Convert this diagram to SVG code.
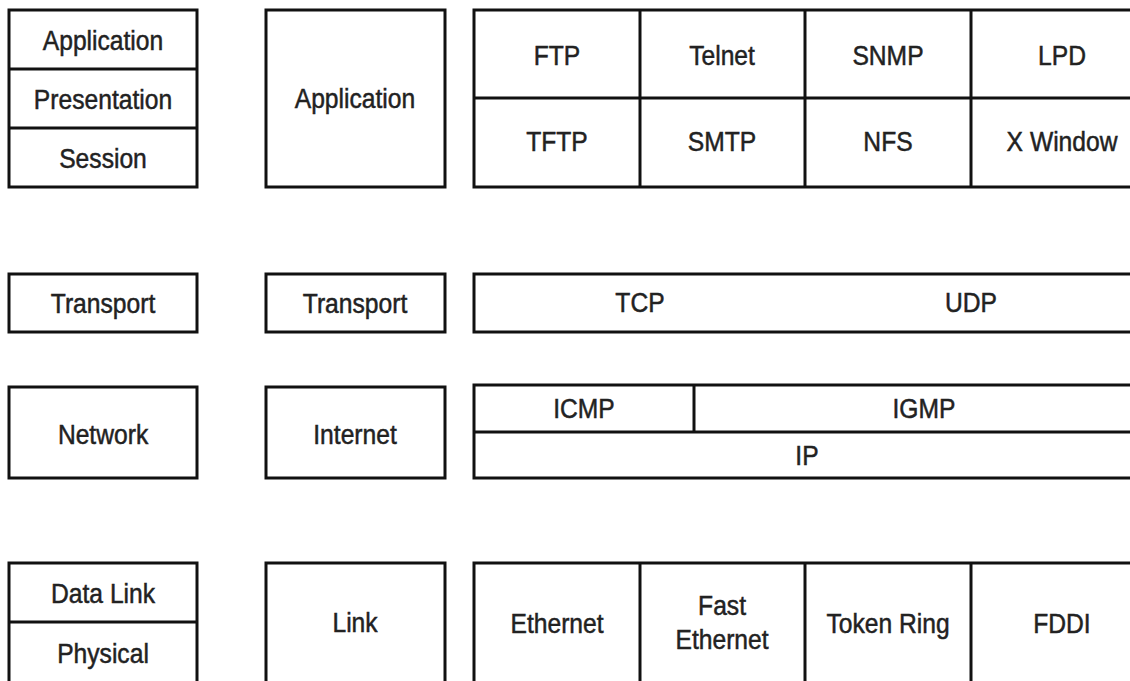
<svg xmlns="http://www.w3.org/2000/svg" width="1130" height="681" viewBox="0 0 1130 681">
<style>
rect,line{fill:none;stroke:#111;stroke-width:3}
text{font-family:"Liberation Sans",Arial,sans-serif;font-size:28px;fill:#222;stroke:#222;stroke-width:0.5;text-anchor:middle;dominant-baseline:central;transform-box:fill-box;transform-origin:center;transform:scaleX(0.88)}
</style>
<rect x="0" y="0" width="1130" height="681" style="fill:#fff;stroke:none"/>
<g id="osi">
<g id="osi-upper"><rect x="9" y="10" width="188" height="177"/><line x1="9" y1="69" x2="197" y2="69"/><line x1="9" y1="128" x2="197" y2="128"/>
<text x="103" y="40">Application</text><text x="103" y="99">Presentation</text><text x="103" y="158">Session</text></g>
<g id="osi-transport"><rect x="9" y="274" width="188" height="58"/><text x="103" y="303">Transport</text></g>
<g id="osi-network"><rect x="9" y="387" width="188" height="91"/><text x="103" y="434">Network</text></g>
<g id="osi-lower"><rect x="9" y="563" width="188" height="130"/><line x1="9" y1="622" x2="197" y2="622"/>
<text x="103" y="593">Data Link</text><text x="103" y="653">Physical</text></g>
</g>
<g id="dod">
<g id="dod-application"><rect x="266" y="10" width="179" height="177"/><text x="355" y="98">Application</text></g>
<g id="dod-transport"><rect x="266" y="274" width="179" height="58"/><text x="355" y="303">Transport</text></g>
<g id="dod-internet"><rect x="266" y="387" width="179" height="91"/><text x="355" y="434">Internet</text></g>
<g id="dod-link"><rect x="266" y="563" width="179" height="130"/><text x="355" y="622">Link</text></g>
</g>
<g id="protocols">
<g id="proto-app"><rect x="474" y="10" width="680" height="177"/><line x1="474" y1="98" x2="1154" y2="98"/>
<line x1="640" y1="10" x2="640" y2="187"/><line x1="805" y1="10" x2="805" y2="187"/><line x1="971" y1="10" x2="971" y2="187"/>
<text x="557" y="55">FTP</text><text x="722" y="55">Telnet</text><text x="888" y="55">SNMP</text><text x="1062" y="55">LPD</text>
<text x="557" y="141">TFTP</text><text x="722" y="141">SMTP</text><text x="888" y="141">NFS</text><text x="1062" y="141">X Window</text></g>
<g id="proto-transport"><rect x="474" y="274" width="680" height="58"/><text x="640" y="302">TCP</text><text x="971" y="302">UDP</text></g>
<g id="proto-internet"><rect x="474" y="385" width="680" height="93"/><line x1="474" y1="432" x2="1154" y2="432"/><line x1="694" y1="385" x2="694" y2="432"/>
<text x="584" y="408">ICMP</text><text x="924" y="408">IGMP</text><text x="807" y="455">IP</text></g>
<g id="proto-link"><rect x="474" y="563" width="680" height="130"/>
<line x1="640" y1="563" x2="640" y2="693"/><line x1="805" y1="563" x2="805" y2="693"/><line x1="971" y1="563" x2="971" y2="693"/>
<text x="557" y="623">Ethernet</text><text x="722" y="605">Fast</text><text x="722" y="639">Ethernet</text><text x="888" y="623">Token Ring</text><text x="1062" y="623">FDDI</text></g>
</g>
</svg>
